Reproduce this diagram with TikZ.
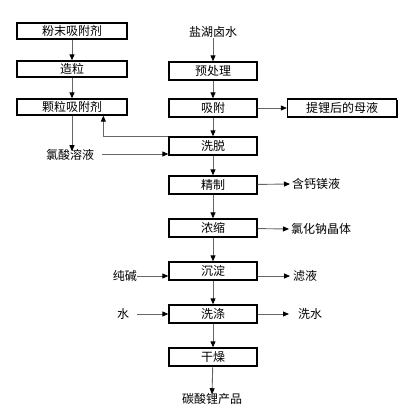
\documentclass[tikz,border=0pt]{standalone}
\usepackage{fontspec}
\setmainfont{Noto Sans CJK SC}
\usetikzlibrary{arrows.meta,shadows}
\begin{document}
\begin{tikzpicture}[x=1pt,y=-1pt,
	box/.style={draw=black,line width=1.3pt,fill=white,inner sep=0pt,
		drop shadow={shadow xshift=1pt,shadow yshift=-1pt,fill=black,opacity=1}},
	lbox/.style={box,minimum width=110pt,minimum height=16pt},
	rbox/.style={box,minimum width=88pt,minimum height=18pt},
	txt/.style={inner sep=0pt},
	arr/.style={draw=black!60,line width=0.9pt,-{Triangle[length=6pt,width=5pt,color=black]}},
	font=\fontsize{12}{14}\selectfont]
		\useasboundingbox (0,0) rectangle (410,418);
		
		% left column
		\node[lbox] (pm) at (72,31) {粉末吸附剂};
		\node[lbox] (zl) at (72,69) {造粒};
		\node[lbox] (kl) at (72,107) {颗粒吸附剂};
		\node[txt] (lsy) at (70,155) {氯酸溶液};
		
		% main column
		\node[txt] (lh) at (213,32) {盐湖卤水};
		\node[rbox] (ycl) at (213,71) {预处理};
		\node[rbox] (xf) at (213,108) {吸附};
		\node[box,minimum width=109pt,minimum height=18pt] (mu) at (342,108) {提锂后的母液};
		\node[rbox] (xt) at (213,146) {洗脱};
		\node[rbox] (jz) at (213,185) {精制};
		\node[rbox] (ns) at (213,228) {浓缩};
		\node[rbox] (cd) at (213,271) {沉淀};
		\node[rbox] (xd) at (213,314) {洗涤};
		\node[rbox] (gz) at (213,357) {干燥};
		\node[txt] (cp) at (212,399) {碳酸锂产品};
		
		% side texts
		\node[txt,anchor=west] (hgm) at (292,184) {含钙镁液};
		\node[txt,anchor=west] (lhn) at (291,229) {氯化钠晶体};
		\node[txt,anchor=west] (ly) at (293,276) {滤液};
		\node[txt,anchor=west] (xs) at (298,314) {洗水};
		\node[txt,anchor=east] (cj) at (137,276) {纯碱};
		\node[txt] (sh) at (123,314) {水};
		
		\draw[arr] (pm) -- (zl);
		\draw[arr] (zl) -- (kl);
		\draw[arr] (kl) -- ([yshift=-2pt]lsy.north -| kl);
		\draw[arr] (lsy.east) ++(8,-1) coordinate (l0) -- (l0 -| xt.west);
		\draw[arr] (xt.north west) -- ++(-65,0) coordinate (fb) -- (fb |- kl.south);
		
		\draw[arr] (lh) -- (ycl);
		\draw[arr] (ycl) -- (xf);
		\draw[arr] (xf) -- (mu);
		\draw[arr] (xf) -- (xt);
		\draw[arr] (xt) -- (jz);
		\draw[arr] (jz) -- (ns);
		\draw[arr] (ns) -- (cd);
		\draw[arr] (cd) -- (xd);
		\draw[arr] (xd) -- (gz);
		\draw[arr] (gz) -- ([yshift=-1pt]cp.north);
		
		\draw[arr] (jz) -- ([xshift=-2pt]hgm.west);
		\draw[arr] (ns) -- ([xshift=-2pt]lhn.west);
		\draw[arr] (ly -| cd.east) -- ([xshift=-3pt]ly.west);
		\draw[arr] (xd) -- ([xshift=-9pt]xs.west);
		\draw[arr] (cj) -- (cj -| cd.west);
		\draw[arr] ([xshift=8pt]sh.east) -- (sh -| xd.west);
\end{tikzpicture}
\end{document}
